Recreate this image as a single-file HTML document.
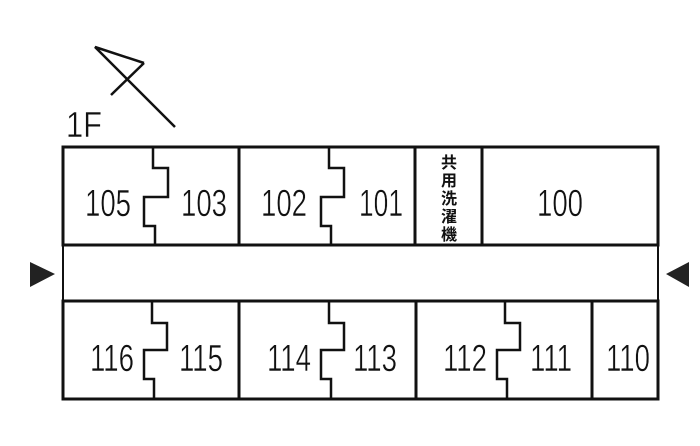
<!DOCTYPE html>
<html><head><meta charset="utf-8"><style>
html,body{margin:0;padding:0;background:#fff;width:700px;height:446px;overflow:hidden}
svg text{font-family:"Liberation Sans","Noto Sans CJK JP",sans-serif;fill:#111}
.n text{stroke:#fff;stroke-width:0.5}
</style></head><body>
<svg width="700" height="446" viewBox="0 0 700 446" xmlns="http://www.w3.org/2000/svg">
<g stroke="#111" stroke-width="2.5" fill="none">
<polyline points="144,63 95,47 175,127"/>
<polyline points="144,63 111,95"/>
<rect x="63" y="147" width="595" height="98" stroke-width="3"/>
<line x1="239" y1="147" x2="239" y2="245" stroke-width="3"/>
<line x1="415" y1="147" x2="415" y2="245" stroke-width="3"/>
<line x1="482" y1="147" x2="482" y2="245" stroke-width="3"/>
<polyline points="153,147 153,168 168,168 168,197 144,197 144,226 155,226 155,245"/>
<polyline points="329,147 329,168 344,168 344,197 321,197 321,226 331,226 331,245"/>
<line x1="63" y1="245" x2="63" y2="301" stroke-width="2"/>
<line x1="658" y1="245" x2="658" y2="301" stroke-width="2"/>
<rect x="63" y="301" width="595" height="98" stroke-width="3"/>
<line x1="239" y1="301" x2="239" y2="399" stroke-width="3"/>
<line x1="416" y1="301" x2="416" y2="399" stroke-width="3"/>
<line x1="592" y1="301" x2="592" y2="399" stroke-width="3"/>
<polyline points="152,301 152,323 167,323 167,350 144,350 144,379 154,379 154,399"/>
<polyline points="329,301 329,323 344,323 344,350 321,350 321,379 331,379 331,399"/>
<polyline points="505,301 505,323 520,323 520,350 497,350 497,379 507,379 507,399"/>
</g>
<polygon points="30,262 30,287 55,274" fill="#222"/>
<polygon points="689,262 689,287 666,274" fill="#222"/>
<g class="n">
<text x="66" y="137" font-size="36" textLength="36" lengthAdjust="spacingAndGlyphs">1F</text>
</g>
<g class="n" font-size="38" text-anchor="middle">
<text x="108" y="216" textLength="46" lengthAdjust="spacingAndGlyphs">105</text>
<text x="204" y="216" textLength="46" lengthAdjust="spacingAndGlyphs">103</text>
<text x="284" y="216" textLength="46" lengthAdjust="spacingAndGlyphs">102</text>
<text x="381" y="216" textLength="44" lengthAdjust="spacingAndGlyphs">101</text>
<text x="560" y="216" textLength="46" lengthAdjust="spacingAndGlyphs">100</text>
<text x="112" y="371" textLength="44" lengthAdjust="spacingAndGlyphs">116</text>
<text x="201" y="371" textLength="44" lengthAdjust="spacingAndGlyphs">115</text>
<text x="289" y="371" textLength="44" lengthAdjust="spacingAndGlyphs">114</text>
<text x="375" y="371" textLength="44" lengthAdjust="spacingAndGlyphs">113</text>
<text x="465" y="371" textLength="44" lengthAdjust="spacingAndGlyphs">112</text>
<text x="551" y="371" textLength="42" lengthAdjust="spacingAndGlyphs">111</text>
<text x="628" y="371" textLength="44" lengthAdjust="spacingAndGlyphs">110</text>
</g>
<g font-size="16" text-anchor="middle" font-weight="bold">
<text x="449" y="168">共</text>
<text x="449" y="186">用</text>
<text x="449" y="204">洗</text>
<text x="449" y="222">濯</text>
<text x="449" y="240">機</text>
</g>
</svg>
</body></html>
